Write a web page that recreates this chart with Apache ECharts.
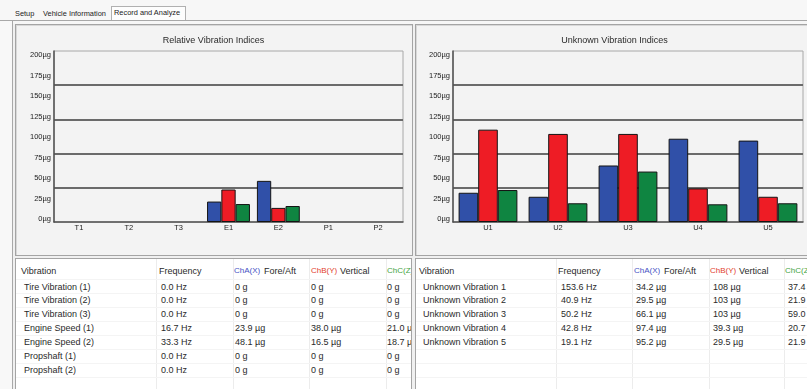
<!DOCTYPE html>
<html><head><meta charset="utf-8">
<script src="https://cdn.jsdelivr.net/npm/echarts/dist/echarts.min.js"></script>
<style>
html,body{margin:0;padding:0;}
body{width:807px;height:389px;overflow:hidden;background:#f0f0f0;font-family:"Liberation Sans",Arial,sans-serif;color:#2a2a2a;position:relative;}
.abs{position:absolute;}
.tab{position:absolute;top:9px;font-size:7.4px;line-height:10px;color:#222;white-space:nowrap;}
.panel{position:absolute;background:#f3f3f3;border:1px solid #a4a4a4;box-sizing:border-box;box-shadow:inset 1px 1px 0 #d8d8d8;}
.table{position:absolute;background:#fff;border:1px solid #a4a4a4;box-sizing:border-box;overflow:hidden;}
.cell{position:absolute;font-size:9px;line-height:12px;white-space:nowrap;color:#2a2a2a;}
.vl{position:absolute;top:0;bottom:0;width:1px;background:#ececec;}
.hl{position:absolute;left:0;right:0;height:1px;background:#f4f4f4;}
#chart{position:absolute;left:0;top:0;width:807px;height:389px;z-index:5;pointer-events:none;}
</style>
</head><body>
<div class="abs" style="left:0;top:0;width:807px;height:21px;background:#f7f7f7;"></div>
<div class="abs" style="left:111px;top:6px;width:75px;height:15px;background:#fdfdfd;border:1px solid #b0b0b0;border-bottom:none;box-sizing:border-box;"></div>
<div class="abs" style="left:0;top:20px;width:807px;height:1px;background:#a8a8a8;"></div>
<div class="tab" style="left:15px;">Setup</div>
<div class="tab" style="left:43px;">Vehicle Information</div>
<div class="tab" style="left:114px;top:8px;">Record and Analyze</div>
<div class="abs" style="left:0;top:21px;width:12px;height:368px;background:#f8f8f8;"></div>
<div class="abs" style="left:12px;top:21px;width:1px;height:368px;background:#a8a8a8;"></div>
<div class="abs" style="left:13px;top:21px;width:794px;height:3px;background:#f6f6f6;"></div>

<div class="panel" style="left:15px;top:24px;width:398px;height:232px;"></div>
<div class="panel" style="left:415px;top:24px;width:400px;height:232px;"></div>

<div class="table" id="tblL" style="left:15px;top:258px;width:397px;height:140px;"></div>
<div class="table" id="tblR" style="left:415px;top:258px;width:400px;height:140px;"></div>

<div id="chart"></div>
<script>
// ---------- data ----------
const relCats = ['T1','T2','T3','E1','E2','P1','P2'];
const relNames = ['Tire Vibration (1)','Tire Vibration (2)','Tire Vibration (3)','Engine Speed (1)','Engine Speed (2)','Propshaft (1)','Propshaft (2)'];
const relFreq = [0.0,0.0,0.0,16.7,33.3,0.0,0.0];
const relA = [0,0,0,23.9,48.1,0,0];
const relB = [0,0,0,38.0,16.5,0,0];
const relC = [0,0,0,21.0,18.7,0,0];

const unkCats = ['U1','U2','U3','U4','U5'];
const unkNames = ['Unknown Vibration 1','Unknown Vibration 2','Unknown Vibration 3','Unknown Vibration 4','Unknown Vibration 5'];
const unkFreq = [153.6,40.9,50.2,42.8,19.1];
const unkA = [34.2,29.5,66.1,97.4,95.2];
const unkB = [108,103,103,39.3,29.5];
const unkC = [37.4,21.9,59.0,20.7,21.9];

const yTicks = [0,25,50,75,100,125,150,175,200];
const titles = ['Relative Vibration Indices','Unknown Vibration Indices'];
const headers = ['Vibration','Frequency','ChA(X)','Fore/Aft','ChB(Y)','Vertical','ChC(Z)'];

// ---------- tables ----------
function fmtG(v){ if(v===0) return '0 g'; if(v>=100) return Math.round(v)+' \u00b5g'; return v.toFixed(1)+' \u00b5g'; }
function fmtHz(v){ return v.toFixed(1)+' Hz'; }
function buildTable(el, names, freq, a, b, c, cols, vlines){
  let html='';
  vlines.forEach(x=>{ html+=`<div class="vl" style="left:${x}px"></div>`; });
  for(let i=0;i<9;i++){ html+=`<div class="hl" style="top:${20+i*14}px"></div>`; }
  const hy = 6;
  html+=`<div class="cell" style="left:${cols.h[0]}px;top:${hy}px">${headers[0]}</div>`;
  html+=`<div class="cell" style="left:${cols.h[1]}px;top:${hy}px">${headers[1]}</div>`;
  html+=`<div class="cell" style="left:${cols.h[2]}px;top:${hy}px;color:#4552c4;font-size:8px">${headers[2]}</div>`;
  html+=`<div class="cell" style="left:${cols.h[2]+30}px;top:${hy}px">${headers[3]}</div>`;
  html+=`<div class="cell" style="left:${cols.h[3]}px;top:${hy}px;color:#e2402c;font-size:8px">${headers[4]}</div>`;
  html+=`<div class="cell" style="left:${cols.h[3]+29}px;top:${hy}px">${headers[5]}</div>`;
  html+=`<div class="cell" style="left:${cols.h[4]}px;top:${hy}px;color:#3fa43f;font-size:8px">${headers[6]}</div>`;
  names.forEach((n,i)=>{
    const y = 21.5 + i*13.95;
    html+=`<div class="cell" style="left:${cols.v[0]}px;top:${y}px">${n}</div>`;
    html+=`<div class="cell" style="left:${cols.v[1]}px;top:${y}px">${fmtHz(freq[i])}</div>`;
    html+=`<div class="cell" style="left:${cols.v[2]}px;top:${y}px">${fmtG(a[i])}</div>`;
    html+=`<div class="cell" style="left:${cols.v[3]}px;top:${y}px">${fmtG(b[i])}</div>`;
    html+=`<div class="cell" style="left:${cols.v[4]}px;top:${y}px">${fmtG(c[i])}</div>`;
  });
  el.innerHTML = html;
}
buildTable(document.getElementById('tblL'), relNames, relFreq, relA, relB, relC,
  {h:[5,143,218,295,371], v:[8,145,219,295,371]}, [140,217,293,370]);
buildTable(document.getElementById('tblR'), unkNames, unkFreq, unkA, unkB, unkC,
  {h:[3,142,218,294,369], v:[7,145,220,297,372]}, [140,216,293,368]);

// ---------- charts ----------
const chart = echarts.init(document.getElementById('chart'), null, {renderer:'canvas'});
const axisCol = '#505050';
const blue = '#3050a8', red = '#ee1c25', green = '#0f8541';
function catAxis(grid, data){
  return {type:'category', gridIndex:grid, data:data,
    axisLine:{show:true, lineStyle:{color:axisCol, width:1.5}},
    axisTick:{show:false},
    axisLabel:{fontSize:7.5, color:'#222', margin:2, fontFamily:'Liberation Sans'},
    splitLine:{show:false}};
}
function hiddenCat(grid){ return {type:'category', gridIndex:grid, data:[''], show:false}; }
function barY(grid){
  return {type:'value', gridIndex:grid, min:0, max:200, interval:40,
    axisLine:{show:true, lineStyle:{color:axisCol, width:1.5}},
    axisTick:{show:false}, axisLabel:{show:false},
    splitLine:{show:true, showMinLine:false, showMaxLine:false, lineStyle:{color:'#6a6a6a', width:2}}};
}
function labelY(grid){
  return {type:'value', gridIndex:grid, min:yTicks[0], max:yTicks[yTicks.length-1], interval:yTicks[1]-yTicks[0],
    axisLine:{show:false}, axisTick:{show:false}, splitLine:{show:false},
    axisLabel:{fontSize:7.5, color:'#222', margin:3, fontFamily:'Liberation Sans', formatter:v=>v+'\u00b5g'}};
}
function bar(name, data, xi, yi, color, gap){
  return {type:'bar', name:name,
    data:data.map(v => v === 0 ? {value:v, itemStyle:{borderWidth:0}} : v),
    xAxisIndex:xi, yAxisIndex:yi,
    barGap:'0%', barCategoryGap:gap, silent:true, animation:false,
    itemStyle:{color:color, borderColor:'#141414', borderWidth:1}};
}
const option = {
  animation:false,
  backgroundColor:'transparent',
  grid:[
    {left:54, top:51, width:349, height:171, show:true, borderColor:'#a8a8a8', borderWidth:1, backgroundColor:'transparent'},
    {left:54, top:55, width:349, height:164},
    {left:453, top:51, width:350, height:171, show:true, borderColor:'#a8a8a8', borderWidth:1, backgroundColor:'transparent'},
    {left:453, top:55, width:350, height:164}
  ],
  xAxis:[catAxis(0, relCats), hiddenCat(1), catAxis(2, unkCats), hiddenCat(3)],
  yAxis:[barY(0), labelY(1), barY(2), labelY(3)],
  graphic:[
    {type:'text', x:213.5, y:41, style:{text:titles[0], fontSize:9, fill:'#2a2a2a', fontFamily:'Liberation Sans', align:'center', verticalAlign:'middle'}},
    {type:'text', x:614.5, y:41, style:{text:titles[1], fontSize:9, fill:'#2a2a2a', fontFamily:'Liberation Sans', align:'center', verticalAlign:'middle'}}
  ],
  series:[
    bar('ChA(X)', relA, 0, 0, blue, '14%'),
    bar('ChB(Y)', relB, 0, 0, red, '14%'),
    bar('ChC(Z)', relC, 0, 0, green, '14%'),
    bar('ChA(X)', unkA, 2, 2, blue, '16%'),
    bar('ChB(Y)', unkB, 2, 2, red, '16%'),
    bar('ChC(Z)', unkC, 2, 2, green, '16%')
  ]
};
chart.setOption(option);
</script>
</body></html>
